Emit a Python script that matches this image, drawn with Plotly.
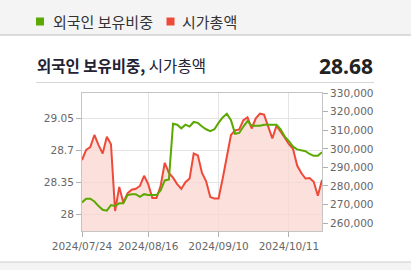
import plotly.graph_objects as go

dates = [
    "2024/07/24", "2024/07/25", "2024/07/26", "2024/07/29", "2024/07/30", "2024/07/31",
    "2024/08/01", "2024/08/02", "2024/08/05", "2024/08/06", "2024/08/07", "2024/08/08",
    "2024/08/09", "2024/08/12", "2024/08/13", "2024/08/14", "2024/08/16", "2024/08/19",
    "2024/08/20", "2024/08/21", "2024/08/22", "2024/08/23", "2024/08/26", "2024/08/27",
    "2024/08/28", "2024/08/29", "2024/08/30", "2024/09/02", "2024/09/03", "2024/09/04",
    "2024/09/05", "2024/09/06", "2024/09/09", "2024/09/10", "2024/09/11", "2024/09/12",
    "2024/09/13", "2024/09/19", "2024/09/20", "2024/09/23", "2024/09/24", "2024/09/25",
    "2024/09/26", "2024/09/27", "2024/09/30", "2024/10/02", "2024/10/04", "2024/10/07",
    "2024/10/08", "2024/10/10", "2024/10/11", "2024/10/14", "2024/10/15", "2024/10/16",
    "2024/10/17", "2024/10/18", "2024/10/21", "2024/10/22", "2024/10/23",
]

foreign_ratio = [
    28.13, 28.17, 28.17, 28.14, 28.09, 28.05, 28.04, 28.10, 28.09, 28.12,
    28.12, 28.21, 28.22, 28.22, 28.19, 28.22, 28.21, 28.21, 28.21, 28.26,
    28.37, 28.38, 28.99, 28.98, 28.94, 28.98, 28.96, 29.01, 29.00, 28.96,
    28.93, 28.91, 28.93, 29.00, 29.06, 29.10, 29.03, 28.88, 28.89, 28.96,
    29.02, 28.97, 28.97, 28.97, 28.98, 28.98, 28.98, 28.98, 28.93, 28.85,
    28.80, 28.74, 28.71, 28.70, 28.69, 28.66, 28.64, 28.64, 28.68,
]

market_cap = [
    294000, 299500, 301000, 307500, 302000, 297500, 306500, 302500, 266500, 279500,
    271000, 276000, 278000, 278500, 280000, 285500, 281000, 273500, 273500, 280000,
    292500, 287000, 284500, 281000, 278500, 282000, 284000, 297500, 296500, 287000,
    282500, 274000, 273300, 273300, 284000, 295800, 307500, 310000, 310500, 315500,
    317000, 311000, 316500, 319000, 318500, 312000, 305700, 312500, 309500, 306000,
    302500, 300000, 291000, 287000, 284000, 284300, 282300, 274700, 283200,
]

left_ticks = [28, 28.35, 28.7, 29.05]
left_tick_text = ["28", "28.35", "28.7", "29.05"]
right_ticks = [260000, 270000, 280000, 290000, 300000, 310000, 320000, 330000]
x_ticks = ["2024/07/24", "2024/08/16", "2024/09/10", "2024/10/11"]

name_ratio = "외국인 보유비중"
name_cap = "시가총액"

W, H = 411, 270
PL, PR, PT, PB = 82, 322, 93, 231

def px(x):
    return (x - PL) / (PR - PL)

def py(y):
    return (PB - y) / (PB - PT)

GREEN = "#5aa800"
RED = "#ee4a3a"
FILL = "rgba(251,212,207,0.72)"
TICKFONT = dict(family="DejaVu Sans", size=10.5, color="#666666")
KFONT = "Noto Sans CJK KR"

fig = go.Figure()
# market cap on the main (right-side) axis, so the ratio line overlays it
fig.add_trace(go.Scatter(
    x=dates, y=market_cap, name=name_cap, yaxis="y", mode="lines",
    line=dict(color=RED, width=2), fill="tozeroy", fillcolor=FILL,
    showlegend=False,
))
fig.add_trace(go.Scatter(
    x=dates, y=foreign_ratio, name=name_ratio, yaxis="y2", mode="lines",
    line=dict(color=GREEN, width=2), showlegend=False,
))

shapes = [
    dict(type="rect", xref="paper", yref="paper", x0=px(0), x1=px(W), y0=py(35), y1=py(0),
         fillcolor="#f4f4f4", line=dict(width=0), layer="below"),
    dict(type="line", xref="paper", yref="paper", x0=px(0), x1=px(W), y0=py(35), y1=py(35),
         line=dict(color="#bdbdbd", width=1)),
    dict(type="rect", xref="paper", yref="paper", x0=px(0), x1=px(W), y0=py(H), y1=py(262),
         fillcolor="#f4f4f4", line=dict(width=0), layer="below"),
    dict(type="line", xref="paper", yref="paper", x0=px(0), x1=px(W), y0=py(262), y1=py(262),
         line=dict(color="#cccccc", width=1)),
    dict(type="line", xref="paper", yref="paper", x0=px(36), x1=px(374), y0=py(82.5), y1=py(82.5),
         line=dict(color="#d6d6d6", width=1)),
    dict(type="rect", xref="paper", yref="paper", x0=px(36), x1=px(44), y0=py(25.5), y1=py(17.5),
         fillcolor=GREEN, line=dict(width=0)),
    dict(type="rect", xref="paper", yref="paper", x0=px(166.5), x1=px(174.5), y0=py(25.5), y1=py(17.5),
         fillcolor=RED, line=dict(width=0)),
]

annotations = [
    dict(text=name_ratio, xref="paper", yref="paper", x=px(51), y=py(21.5),
         xanchor="left", yanchor="middle", showarrow=False,
         font=dict(family=KFONT, size=15, color="#333333")),
    dict(text=name_cap, xref="paper", yref="paper", x=px(180), y=py(21.5),
         xanchor="left", yanchor="middle", showarrow=False,
         font=dict(family=KFONT, size=15, color="#333333")),
    dict(text=f"<b>{name_ratio},</b> {name_cap}", xref="paper", yref="paper",
         x=px(35), y=py(65), xanchor="left", yanchor="middle", showarrow=False,
         font=dict(family=KFONT, size=15.5, color="#222233")),
    dict(text=f"<b>{foreign_ratio[-1]:.2f}</b>", xref="paper", yref="paper",
         x=px(375), y=py(65.5), xanchor="right", yanchor="middle", showarrow=False,
         font=dict(family="Noto Sans", size=21, color="#222222")),
]

fig.update_layout(
    width=W, height=H,
    margin=dict(l=PL, r=W - PR, t=PT, b=H - PB, pad=0),
    paper_bgcolor="white", plot_bgcolor="white",
    showlegend=False,
    shapes=shapes, annotations=annotations,
    xaxis=dict(
        type="category", range=[0, len(dates) - 1],
        tickmode="array", tickvals=x_ticks, ticktext=x_ticks,
        showgrid=True, gridcolor="#e4e4e4", gridwidth=1,
        ticks="outside", ticklen=5, tickcolor="#b0b0b0",
        showline=True, linecolor="#c4c4c4", linewidth=1, mirror=True,
        tickfont=TICKFONT, zeroline=False,
    ),
    yaxis=dict(
        side="right", range=[255700, 330150],
        tickmode="array", tickvals=right_ticks, tickformat=",",
        showgrid=False, ticks="outside", ticklen=5, tickcolor="#b0b0b0",
        showline=True, linecolor="#c4c4c4", linewidth=1, mirror=True,
        tickfont=TICKFONT, zeroline=False,
    ),
    yaxis2=dict(
        overlaying="y", side="left",
        range=[27.817, 29.327], tickmode="array", tickvals=left_ticks, ticktext=left_tick_text,
        showgrid=True, gridcolor="#e4e4e4", gridwidth=1,
        ticks="outside", ticklen=5, tickcolor="#b0b0b0",
        showline=False, tickfont=TICKFONT, zeroline=False,
    ),
)

fig.write_html("out.html")
